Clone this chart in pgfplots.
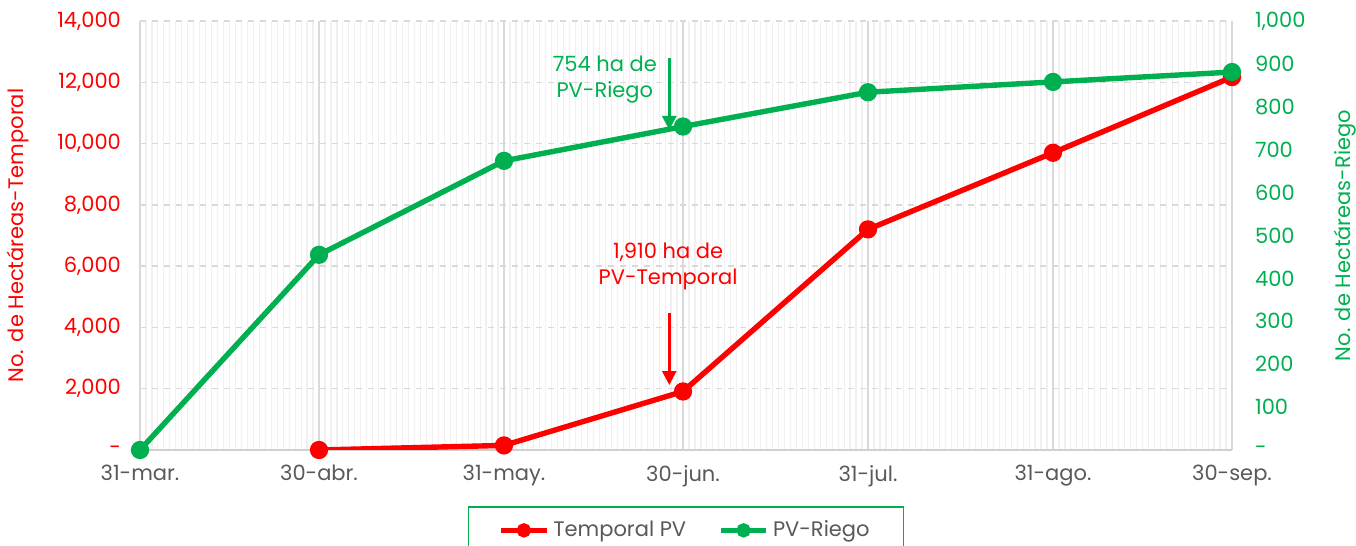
\documentclass[border=0pt]{standalone}
\usepackage{fontspec}
\setmainfont{Poppins}
\usepackage{pgfplots}
\pgfplotsset{compat=1.18}
\usetikzlibrary{arrows.meta}
\definecolor{myred}{HTML}{FF0000}
\definecolor{mygreen}{HTML}{00B050}
\definecolor{txtgray}{HTML}{595959}
\definecolor{gridmaj}{HTML}{D9D9D9}
\definecolor{gridmin}{HTML}{F0F0F0}
\definecolor{axgray}{HTML}{D0D0D0}

\pgfplotstableread{
x y
30 0
61 150
91 1910
122 7200
153 9700
183 12170
}\temporal

\pgfplotstableread{
x y
0 0
30 455
61 674
91 754
122 834
153 858
183 881
}\riego

\begin{document}
\begin{tikzpicture}
\useasboundingbox (-70pt,-48pt) rectangle (608pt,225pt);
\begin{axis}[
  scale only axis, width=546pt, height=214.5pt,
  xmin=0, xmax=183, ymin=0, ymax=14000,
  scaled y ticks=false, scaled x ticks=false,
  axis x line*=bottom, axis y line*=left,
  y axis line style={draw=none},
  x axis line style={axgray, line width=0.8pt},
  xtick={0,30,61,91,122,153,183},
  xticklabels={31-mar.,30-abr.,31-may.,30-jun.,31-jul.,31-ago.,30-sep.},
  minor xtick={1,...,182},
  ytick={0,2000,...,14000},
  yticklabels={-,{2,000},{4,000},{6,000},{8,000},{10,000},{12,000},{14,000}},
  tick style={draw=none},
  xmajorgrids=true, xminorgrids=true, ymajorgrids=true,
  major x grid style={gridmaj, line width=0.7pt},
  minor x grid style={gridmin, line width=0.6pt},
  major y grid style={gridmaj, dashed, line width=0.7pt},
  xticklabel style={txtgray, font=\fontsize{10.5}{12}\selectfont, yshift=-4pt},
  yticklabel style={myred, font=\fontsize{10.5}{12}\selectfont, xshift=-6pt},
  ylabel={No. de Hectáreas-Temporal},
  ylabel style={myred, font=\fontsize{10.5}{12}\selectfont, at={(axis description cs:-0.1117,0.5)}, anchor=center, rotate=0},
  legend columns=2,
  legend style={at={(axis description cs:0.5,-0.1305)}, anchor=north, draw=mygreen, line width=0.9pt,
    font=\fontsize{10.5}{12}\selectfont\color{txtgray}, inner xsep=15pt, inner ysep=5pt,
    /tikz/every even column/.append style={column sep=14pt}},
  legend image code/.code={\draw[#1] (0cm,0cm) -- (0.8cm,0cm); \draw[#1, mark size=2.2pt] plot coordinates {(0.4cm,0cm)};},
  legend cell align=left,
]
\addplot[myred, line width=2.7pt, mark=*, mark size=3.2pt] table[x=x,y=y] {\temporal};
\addlegendentry{Temporal PV}
\addlegendimage{mygreen, line width=2.7pt, mark=*}
\addlegendentry{PV-Riego}
\node[mygreen, align=center, font=\fontsize{10.5}{13}\selectfont] at (axis cs:77.9,12075) {754 ha de\\PV-Riego};
\draw[mygreen, line width=1.3pt, -{Triangle[width=7pt,length=7pt]}] (axis cs:88.7,12794) -- (axis cs:88.7,10444);
\node[myred, align=center, font=\fontsize{10.5}{13}\selectfont] at (axis cs:88.5,6005) {1,910 ha de\\PV-Temporal};
\draw[myred, line width=1.3pt, -{Triangle[width=7pt,length=7pt]}] (axis cs:88.7,4471) -- (axis cs:88.7,2121);
\end{axis}
\begin{axis}[
  scale only axis, width=546pt, height=214.5pt,
  xmin=0, xmax=183, ymin=0, ymax=1000,
  scaled y ticks=false,
  axis x line=none, axis y line*=right,
  y axis line style={draw=none},
  ytick={0,100,...,1000},
  yticklabels={-,100,200,300,400,500,600,700,800,900,{1,000}},
  tick style={draw=none},
  yticklabel style={mygreen, font=\fontsize{10.5}{12}\selectfont, xshift=8pt},
  ylabel={No. de Hectáreas-Riego},
  ylabel style={mygreen, font=\fontsize{10.5}{12}\selectfont, at={(axis description cs:1.1035,0.5)}, anchor=center, rotate=0},
]
\addplot[mygreen, line width=2.7pt, mark=*, mark size=3.2pt] table[x=x,y=y] {\riego};
\end{axis}
\end{tikzpicture}
\end{document}
